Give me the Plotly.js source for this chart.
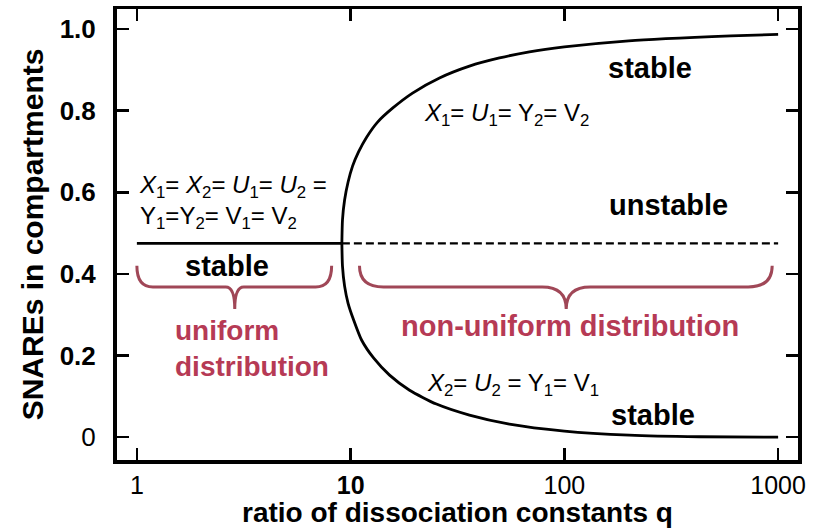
<!DOCTYPE html>
<html>
<head>
<meta charset="utf-8">
<script src="https://cdn.plot.ly/plotly-3.0.1.min.js"></script>
<style>
  html, body { margin: 0; padding: 0; background: #fff; }
  #chart { width: 813px; height: 528px; }
</style>
</head>
<body>
<div id="chart"></div>
<script>
// Symmetric (uniform) branch: solid while stable, dashed once unstable
const qUniform = [1, 9.1];
const yUniform = [0.475, 0.475];
const qUnstable = [9.1, 1000];
const yUnstable = [0.475, 0.475];

// Upper non-uniform branch: X1 = U1 = Y2 = V2
const qUpper = [9.1, 9.16, 9.37, 9.73, 10.21, 10.89, 11.88, 13.37, 15.71, 19.48, 26.05, 35.96, 49.7, 68.6, 100, 200, 600, 1000];
const yUpper = [0.475, 0.532, 0.581, 0.625, 0.664, 0.699, 0.735, 0.772, 0.806, 0.843, 0.880, 0.909, 0.929, 0.944, 0.956, 0.971, 0.983, 0.987];

// Lower non-uniform branch: X2 = U2 = Y1 = V1
const qLower = [9.1, 9.16, 9.37, 9.73, 10.33, 11.25, 12.8, 15.21, 18.87, 25.2, 35.96, 55.3, 100, 201, 428, 1000];
const yLower = [0.475, 0.419, 0.370, 0.328, 0.287, 0.238, 0.194, 0.152, 0.115, 0.081, 0.054, 0.032, 0.015, 0.005, 0.001, 0.0];

// Axis ticks
const xTickVals = [1, 10, 100, 1000];
const xTickText = ['1', '<b>10</b>', '100', '1000'];
const yTickVals = [0, 0.2, 0.4, 0.6, 0.8, 1.0];
const yTickText = ['0', '<b>0.2</b>', '<b>0.4</b>', '<b>0.6</b>', '<b>0.8</b>', '<b>1.0</b>'];

// Regions marked with braces: [start q, tip q, end q]
const uniformSpan = [1, 2.87, 8.15];
const nonUniformSpan = [11, 102, 938];
const braceY = { top: 0.42, bar: 0.368, tip: 0.314 };

const xRange = [-0.093, 3.093];
const yRange = [-0.056, 1.049];
const margin = { l: 117, r: 15, t: 9, b: 68 };
const W = 813, H = 528;
const plotW = W - margin.l - margin.r;

const FONT = 'Liberation Sans, Arial, Helvetica, sans-serif';
const RED_TEXT = '#b63a55';
const RED_LINE = '#a04757';

const lg = Math.log10;
// data -> paper fractions, used for the brace paths
const px = q => (lg(q) - xRange[0]) / (xRange[1] - xRange[0]);
const py = y => (y - yRange[0]) / (yRange[1] - yRange[0]);

function bracePath(span, cornerPx, tipPx) {
  const [q0, qm, q1] = span;
  const x0 = px(q0), xm = px(qm), x1 = px(q1);
  const dc = cornerPx / plotW, dt = tipPx / plotW;
  const yt = py(braceY.top), yb = py(braceY.bar), yp = py(braceY.tip);
  return `M ${x0},${yt} Q ${x0},${yb} ${x0 + dc},${yb} L ${xm - dt},${yb} ` +
         `Q ${xm},${yb} ${xm},${yp} Q ${xm},${yb} ${xm + dt},${yb} ` +
         `L ${x1 - dc},${yb} Q ${x1},${yb} ${x1},${yt}`;
}

const lineBlack = { color: '#000', width: 2.8 };
const curve = Object.assign({ shape: 'spline', smoothing: 0.6 }, lineBlack);

const traces = [
  { x: qUniform, y: yUniform, mode: 'lines', line: lineBlack, hoverinfo: 'skip' },
  { x: qUnstable, y: yUnstable, mode: 'lines',
    line: { color: '#000', width: 2.3, dash: '8px,4px' }, hoverinfo: 'skip' },
  { x: qUpper, y: yUpper, mode: 'lines', line: curve, hoverinfo: 'skip' },
  { x: qLower, y: yLower, mode: 'lines', line: curve, hoverinfo: 'skip' }
];

function note(text, q, y, opts) {
  return Object.assign({
    text: text, x: lg(q), y: y, xref: 'x', yref: 'y',
    showarrow: false, xanchor: 'center', yanchor: 'middle',
    font: { family: FONT, size: 29, color: '#000' }
  }, opts || {});
}

const fm = { family: FONT, size: 24, color: '#000' };

const annotations = [
  note('<i>X</i><sub>1</sub>= <i>X</i><sub>2</sub>= <i>U</i><sub>1</sub>= <i>U</i><sub>2</sub> =<br>Y<sub>1</sub>=Y<sub>2</sub>= V<sub>1</sub>= V<sub>2</sub>',
       1, 0.575, { xanchor: 'left', align: 'left', font: fm }),
  note('<b>stable</b>', Math.pow(10, 0.42), 0.42),
  note('<i>X</i><sub>1</sub>= <i>U</i><sub>1</sub>= Y<sub>2</sub>= V<sub>2</sub>',
       Math.pow(10, 1.336), 0.79, { xanchor: 'left', font: fm }),
  note('<b>stable</b>', Math.pow(10, 2.402), 0.904),
  note('<b>unstable</b>', Math.pow(10, 2.486), 0.569),
  note('<i>X</i><sub>2</sub>= <i>U</i><sub>2</sub> = Y<sub>1</sub>= V<sub>1</sub>',
       Math.pow(10, 1.346), 0.13, { xanchor: 'left', font: fm }),
  note('<b>stable</b>', Math.pow(10, 2.416), 0.054),
  note('<b>uniform<br>distribution</b>', Math.pow(10, 0.168), 0.216,
       { xanchor: 'left', align: 'left', font: { family: FONT, size: 28, color: RED_TEXT } }),
  note('<b>non-uniform distribution</b>', Math.pow(10, 2.028), 0.272,
       { font: { family: FONT, size: 29, color: RED_TEXT } })
];

const shapes = [
  { type: 'path', xref: 'paper', yref: 'paper', path: bracePath(uniformSpan, 16, 9),
    line: { color: RED_LINE, width: 3 } },
  { type: 'path', xref: 'paper', yref: 'paper', path: bracePath(nonUniformSpan, 24, 24),
    line: { color: RED_LINE, width: 3 } }
];

const layout = {
  width: W, height: H,
  margin: margin,
  paper_bgcolor: '#fff', plot_bgcolor: '#fff',
  showlegend: false,
  font: { family: FONT, color: '#000' },
  xaxis: {
    type: 'log', range: xRange,
    tickmode: 'array', tickvals: xTickVals, ticktext: xTickText,
    ticks: 'inside', ticklen: 12, tickwidth: 2.5, tickcolor: '#000',
    showline: true, linewidth: 3.5, linecolor: '#000', mirror: 'ticks',
    showgrid: false, zeroline: false,
    tickfont: { family: FONT, size: 25, color: '#000' },
    ticklabelstandoff: 0,
    title: { text: '<b>ratio of dissociation constants q</b>',
             font: { family: FONT, size: 28, color: '#000' }, standoff: 2 }
  },
  yaxis: {
    range: yRange,
    tickmode: 'array', tickvals: yTickVals, ticktext: yTickText,
    ticks: 'inside', ticklen: 12, tickwidth: 2.5, tickcolor: '#000',
    showline: true, linewidth: 4, linecolor: '#000', mirror: 'ticks',
    showgrid: false, zeroline: false,
    tickfont: { family: FONT, size: 26, color: '#000' },
    ticklabelstandoff: 12,
    title: { text: '<b>SNAREs in compartments</b>',
             font: { family: FONT, size: 30, color: '#000' }, standoff: 8 }
  },
  shapes: shapes,
  annotations: annotations
};

Plotly.newPlot('chart', traces, layout, { staticPlot: true, displayModeBar: false });
</script>
</body>
</html>
